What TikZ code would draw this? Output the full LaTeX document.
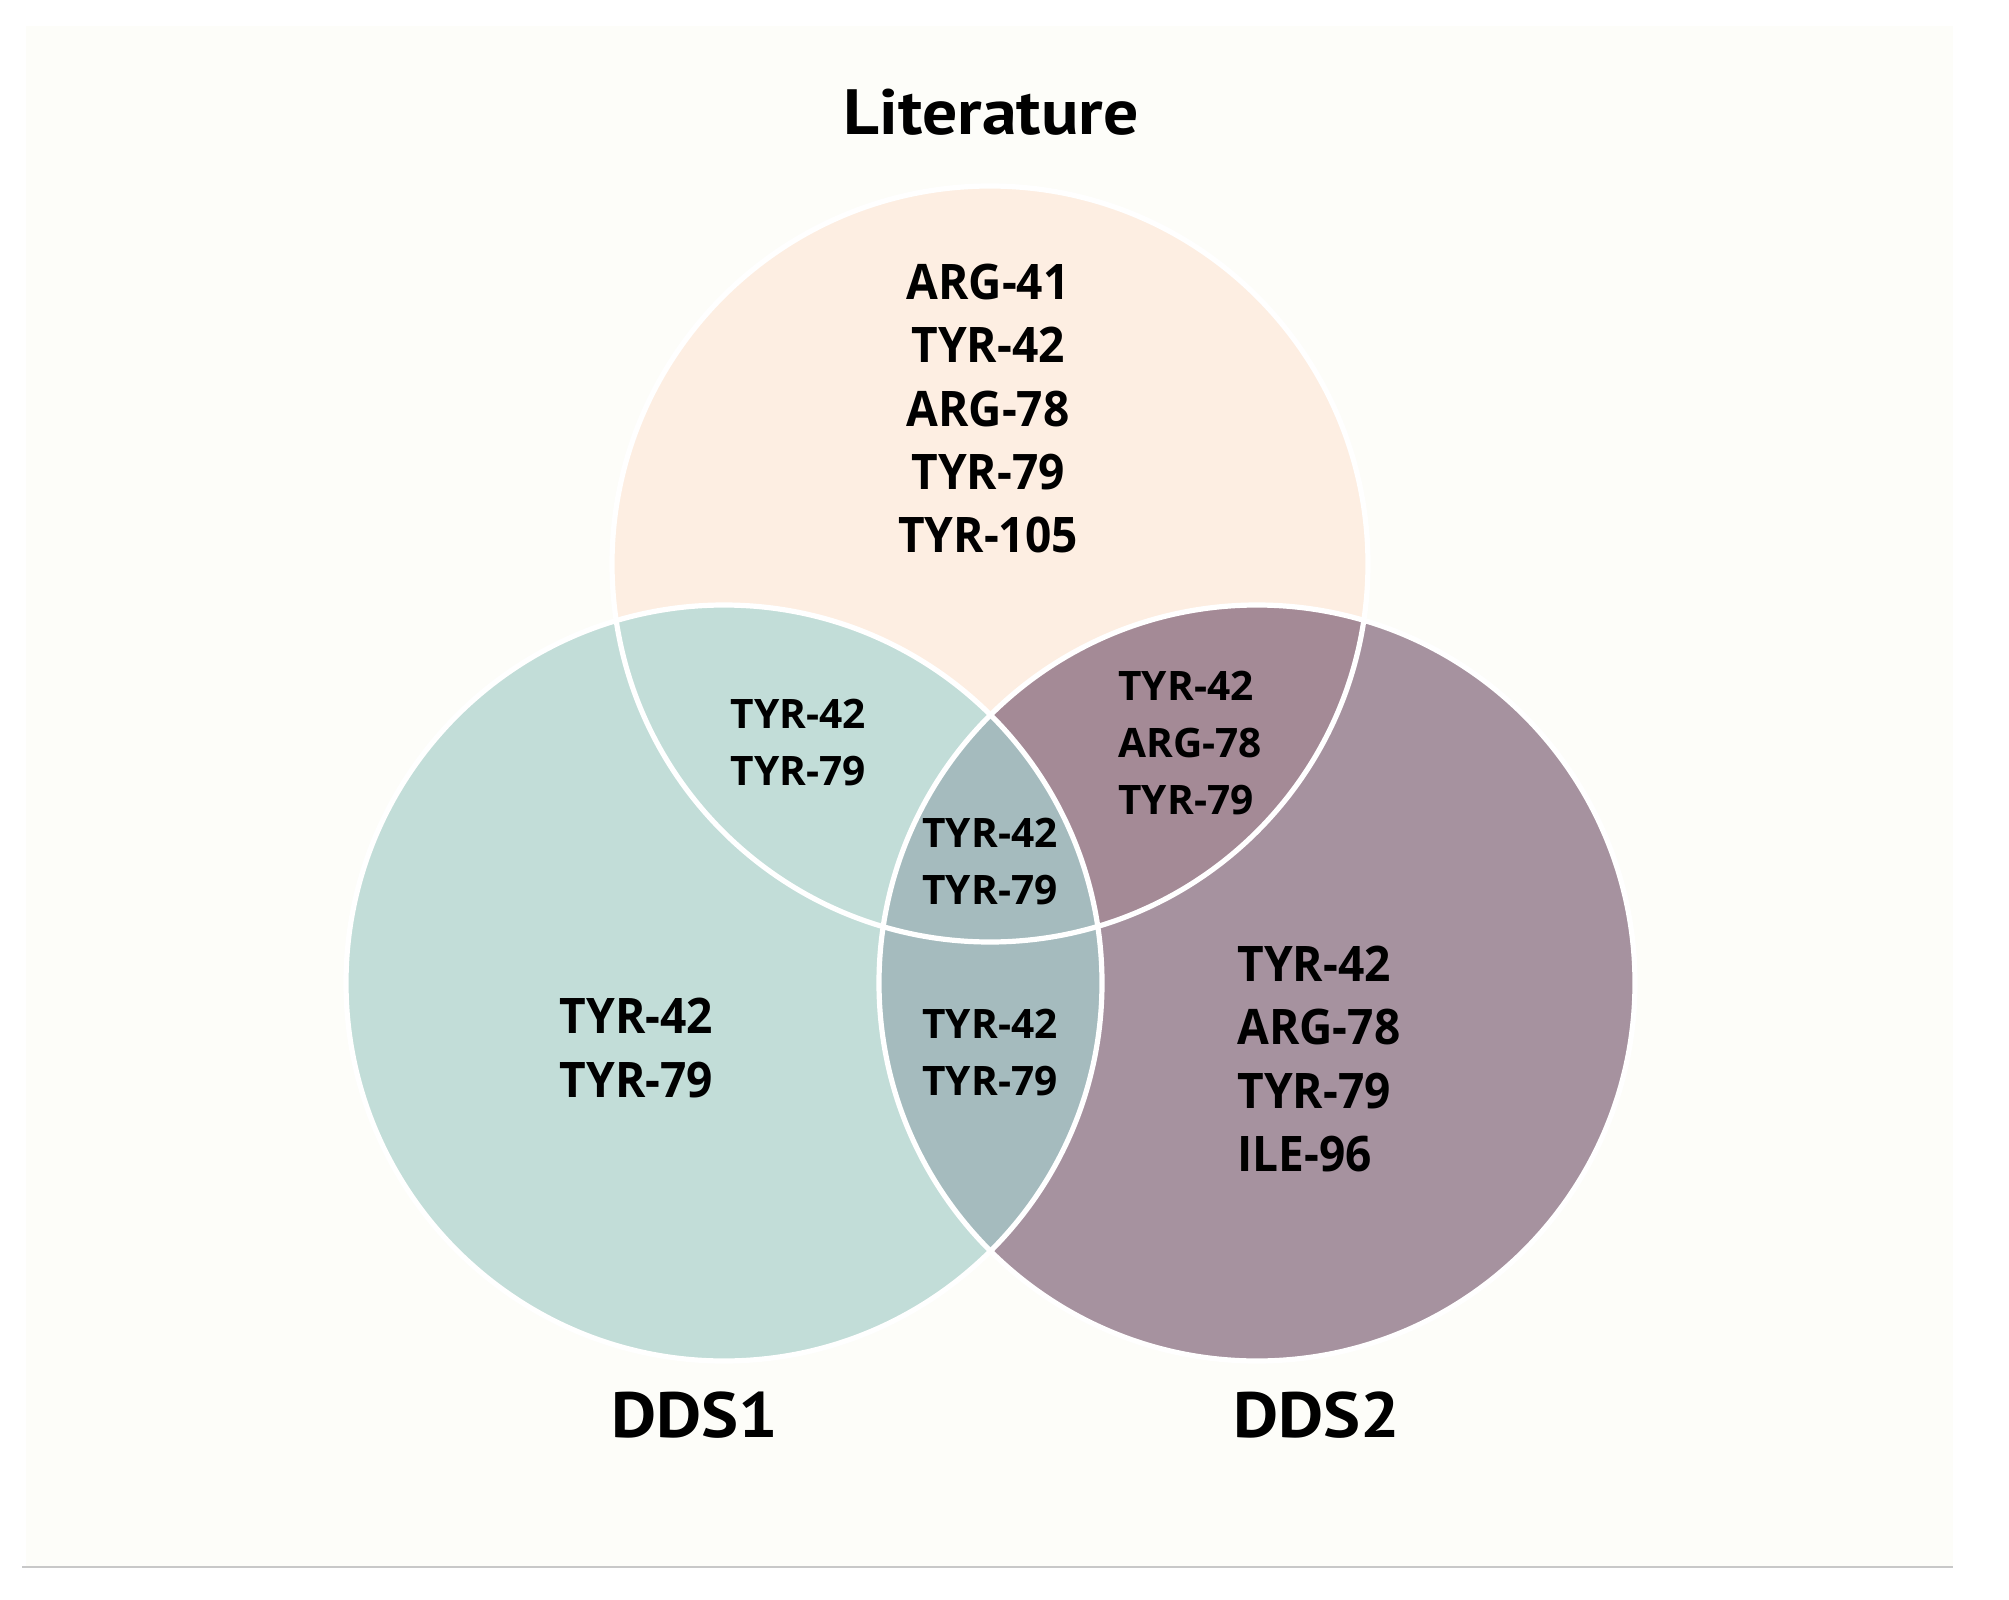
\documentclass[tikz,border=0pt]{standalone}
\usepackage{fontspec}
\setmainfont{Open Sans}[FakeStretch=0.94]
\newfontfamily\smallfont{Open Sans}
\newfontfamily\titlefont{PT Sans}[FakeStretch=1.09]
\definecolor{panelc}{HTML}{FDFDF9}
\definecolor{linec}{HTML}{C8C8C8}
\definecolor{litc}{HTML}{FDEEE2}
\definecolor{ddsac}{HTML}{C2DDD8}
\definecolor{ddsbc}{HTML}{A6929F}
\definecolor{litbc}{HTML}{A48A96}
\definecolor{abc}{HTML}{A5BBBE}
\tikzset{
  outline/.style={draw=white, line width=2.6pt},
  biglab/.style={inner sep=0pt, font=\fontsize{24.5pt}{31.7pt}\selectfont\bfseries},
  smalllab/.style={inner sep=0pt, font=\smallfont\fontsize{20.3pt}{28.5pt}\selectfont\bfseries},
  setname/.style={inner sep=0pt, anchor=base, font=\titlefont\fontsize{32pt}{38pt}\selectfont\bfseries}
}
\begin{document}
\begin{tikzpicture}[x=0.5pt,y=-0.5pt]
\fill[white] (0,0) rectangle (2009,1600);
\useasboundingbox (0,0) rectangle (2009,1600);
\fill[panelc] (26,26) rectangle (1953,1567);
\draw[linec, line width=1pt] (22,1567) -- (1953,1567);

\coordinate (L) at (990,564);
\coordinate (A) at (724,983);
\coordinate (B) at (1257,983);

\fill[litc] (L) circle[radius=189pt];
\fill[ddsac] (A) circle[radius=189pt];
\fill[ddsbc] (B) circle[radius=189pt];
\begin{scope}
  \clip (L) circle[radius=189pt];
  \fill[litbc] (B) circle[radius=189pt];
\end{scope}
\begin{scope}
  \clip (A) circle[radius=189pt];
  \fill[abc] (B) circle[radius=189pt];
\end{scope}
\draw[outline] (L) circle[radius=189pt];
\draw[outline] (A) circle[radius=189pt];
\draw[outline] (B) circle[radius=189pt];

\node[setname] (littitle) at (991,135) {Literature};
\node[setname] (ddsatitle) at (695,1437) {DDS1};
\node[setname] (ddsbtitle) at (1317,1437) {DDS2};

\node[biglab, align=center] (litonly) at (988,408.5) {ARG-41\\TYR-42\\ARG-78\\TYR-79\\TYR-105};
\node[biglab, align=center] (aonly) at (636.5,1048) {TYR-42\\TYR-79};
\node[biglab, align=left, anchor=west] (bonly) at (1237,1059) {TYR-42\\ARG-78\\TYR-79\\ILE-96};
\node[smalllab, align=center] (litA) at (798.5,742) {TYR-42\\TYR-79};
\node[smalllab, align=left, anchor=west] (litB) at (1118,742.5) {TYR-42\\ARG-78\\TYR-79};
\node[smalllab, align=center] (all) at (990,861.5) {TYR-42\\TYR-79};
\node[smalllab, align=center] (AB) at (990,1052.5) {TYR-42\\TYR-79};
\end{tikzpicture}
\end{document}
